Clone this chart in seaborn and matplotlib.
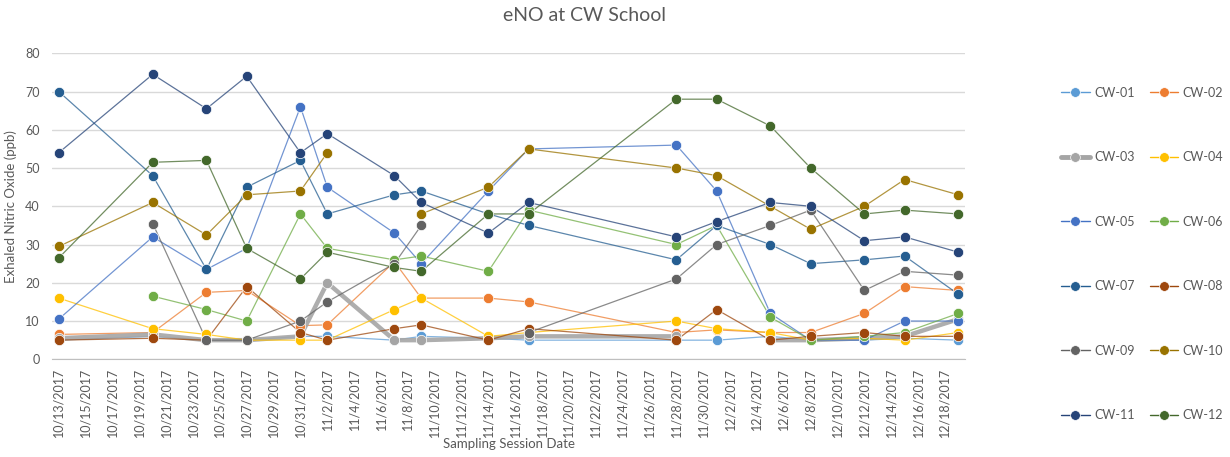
import numpy as np
import pandas as pd
import matplotlib
matplotlib.use("Agg")
import matplotlib.pyplot as plt
import matplotlib.dates as mdates
from matplotlib.lines import Line2D
import seaborn as sns

# Sampling dates and eNO readings (ppb) per student, NaN = not sampled
dates = ["2017-10-13", "2017-10-20", "2017-10-24", "2017-10-27", "2017-10-31",
         "2017-11-02", "2017-11-07", "2017-11-09", "2017-11-14", "2017-11-17",
         "2017-11-28", "2017-12-01", "2017-12-05", "2017-12-08", "2017-12-12",
         "2017-12-15", "2017-12-19"]
nan = np.nan
cw01 = [5, 6, 5, 5, 6, 6, 5, 6, 5.5, 5, 5, 5, 6, 5, 5, 5.5, 5]
cw02 = [6.5, 7, 17.5, 18, 8.8, 9, 25.5, 16, 16, 15, 7, 7.7, 7, 7, 12, 19, 18]
cw03 = [5.5, 6.5, 5, 5, 6, 20, 5, 5, 5.5, 6, 6, nan, 5, 5, 5.5, 6, 10.5]
cw04 = [16, 8, 6.5, 5, 5, 5, 13, 16, 6, 7, 10, 8, 7, 5, 5.5, 5, 7]
cw05 = [10.5, 32, 23.5, 29, 66, 45, 33, 25, 44, 55, 56, 44, 12, 5, 5, 10, 10]
cw06 = [nan, 16.5, 13, 10, 38, 29, 26, 27, 23, 39, 30, 35, 11, 5, 6, 7, 12]
cw07 = [70, 48, 23.5, 45, 52, 38, 43, 44, 38, 35, 26, 35, 30, 25, 26, 27, 17]
cw08 = [5, 5.5, 5, 19, 7, 5, 8, 9, 5, 8, 5, 13, 5, 6, 7, 6, 6]
cw09 = [nan, 35.5, 5, 5, 10, 15, 25, 35, nan, 7, 21, 30, 35, 39, 18, 23, 22]
cw10 = [29.5, 41, 32.5, 43, 44, 54, nan, 38, 45, 55, 50, 48, 40, 34, 40, 47, 43]
cw11 = [54, 74.5, 65.5, 74, 54, 59, 48, 41, 33, 41, 32, 36, 41, 40, 31, 32, 28]
cw12 = [26.5, 51.5, 52, 29, 21, 28, 24, 23, 38, 38, 68, 68, 61, 50, 38, 39, 38]

sites = ["CW-01", "CW-02", "CW-03", "CW-04", "CW-05", "CW-06",
         "CW-07", "CW-08", "CW-09", "CW-10", "CW-11", "CW-12"]
series = [cw01, cw02, cw03, cw04, cw05, cw06, cw07, cw08, cw09, cw10, cw11, cw12]

# Office palette
colors = ["#5B9BD5", "#ED7D31", "#A5A5A5", "#FFC000", "#4472C4", "#70AD47",
          "#255E91", "#9E480E", "#636363", "#997300", "#264478", "#43682B"]
palette = dict(zip(sites, colors))
GREY = "#595959"

# long format, with a segment id so empty cells break the line
rows = []
for site, vals in zip(sites, series):
    seg = 0
    for d, v in zip(dates, vals):
        if np.isnan(v):
            seg += 1
            continue
        rows.append({"site": site, "date": pd.Timestamp(d), "value": v, "seg": seg})
df = pd.DataFrame(rows)

sns.set_style("white")
plt.rcParams["font.family"] = ["Lato", "DejaVu Sans"]

fig = plt.figure(figsize=(12.3, 4.57), dpi=100)
ax = fig.add_axes([0.0423, 0.2138, 0.7423, 0.6696])

for site in sites:
    sub = df[df["site"] == site]
    sns.lineplot(data=sub, x="date", y="value", units="seg", estimator=None,
                 color=palette[site], lw=3.2 if site == "CW-03" else 0.9,
                 alpha=0.9 if site == "CW-03" else 0.75, ax=ax, legend=False)
    sns.scatterplot(data=sub, x="date", y="value", color=palette[site], s=55,
                    edgecolor="white", linewidth=0.5, ax=ax, legend=False, zorder=3)

# axes styling
x0 = pd.Timestamp("2017-10-12 12:00")
x1 = pd.Timestamp("2017-12-19 12:00")
ax.set_xlim(x0, x1)
ax.set_ylim(0, 80)
ax.set_yticks(range(0, 81, 10))
ax.yaxis.grid(True, color="#D9D9D9", lw=1)
ax.xaxis.grid(False)
for s in ["left", "right", "top"]:
    ax.spines[s].set_visible(False)
ax.spines["bottom"].set_color("#BFBFBF")
ax.tick_params(axis="y", length=0, pad=9, labelsize=9, labelcolor=GREY)

label_days = pd.date_range("2017-10-13", "2017-12-18", freq="2D")
ax.set_xticks(label_days)
ax.xaxis.set_major_formatter(
    plt.FuncFormatter(lambda v, p: "{d.month}/{d.day}/{d.year}".format(d=mdates.num2date(v))))
ax.tick_params(axis="x", which="major", length=0, pad=6, labelsize=9,
               labelcolor=GREY, labelrotation=90)
ax.set_xticks(pd.date_range(x0, x1, freq="2D"), minor=True)
ax.tick_params(axis="x", which="minor", length=5, color="#BFBFBF", width=1)

ax.set_xlabel("Sampling Session Date", fontsize=9.5, color=GREY, labelpad=1)
ax.set_ylabel("Exhaled Nitric Oxide (ppb)", fontsize=9.5, color=GREY, labelpad=6)
fig.text(0.475, 0.965, "eNO at CW School", ha="center", va="center",
         fontsize=14, color=GREY)

# legend, row-major like the original (two columns)
handles = {}
for site in sites:
    handles[site] = Line2D([], [], color=palette[site], marker="o", markersize=7,
                           markeredgecolor="white", markeredgewidth=0.5,
                           lw=3.5 if site == "CW-03" else 1)
order = sites[0::2] + sites[1::2]
leg = fig.legend([handles[s] for s in order], order, ncol=2, frameon=False,
                 loc="upper left", bbox_to_anchor=(0.8535, 0.835), fontsize=9,
                 labelspacing=4.2, handlelength=2.3, handletextpad=0.35,
                 columnspacing=1.2)
for t in leg.get_texts():
    t.set_color(GREY)

fig.savefig("out.png", dpi=100)
